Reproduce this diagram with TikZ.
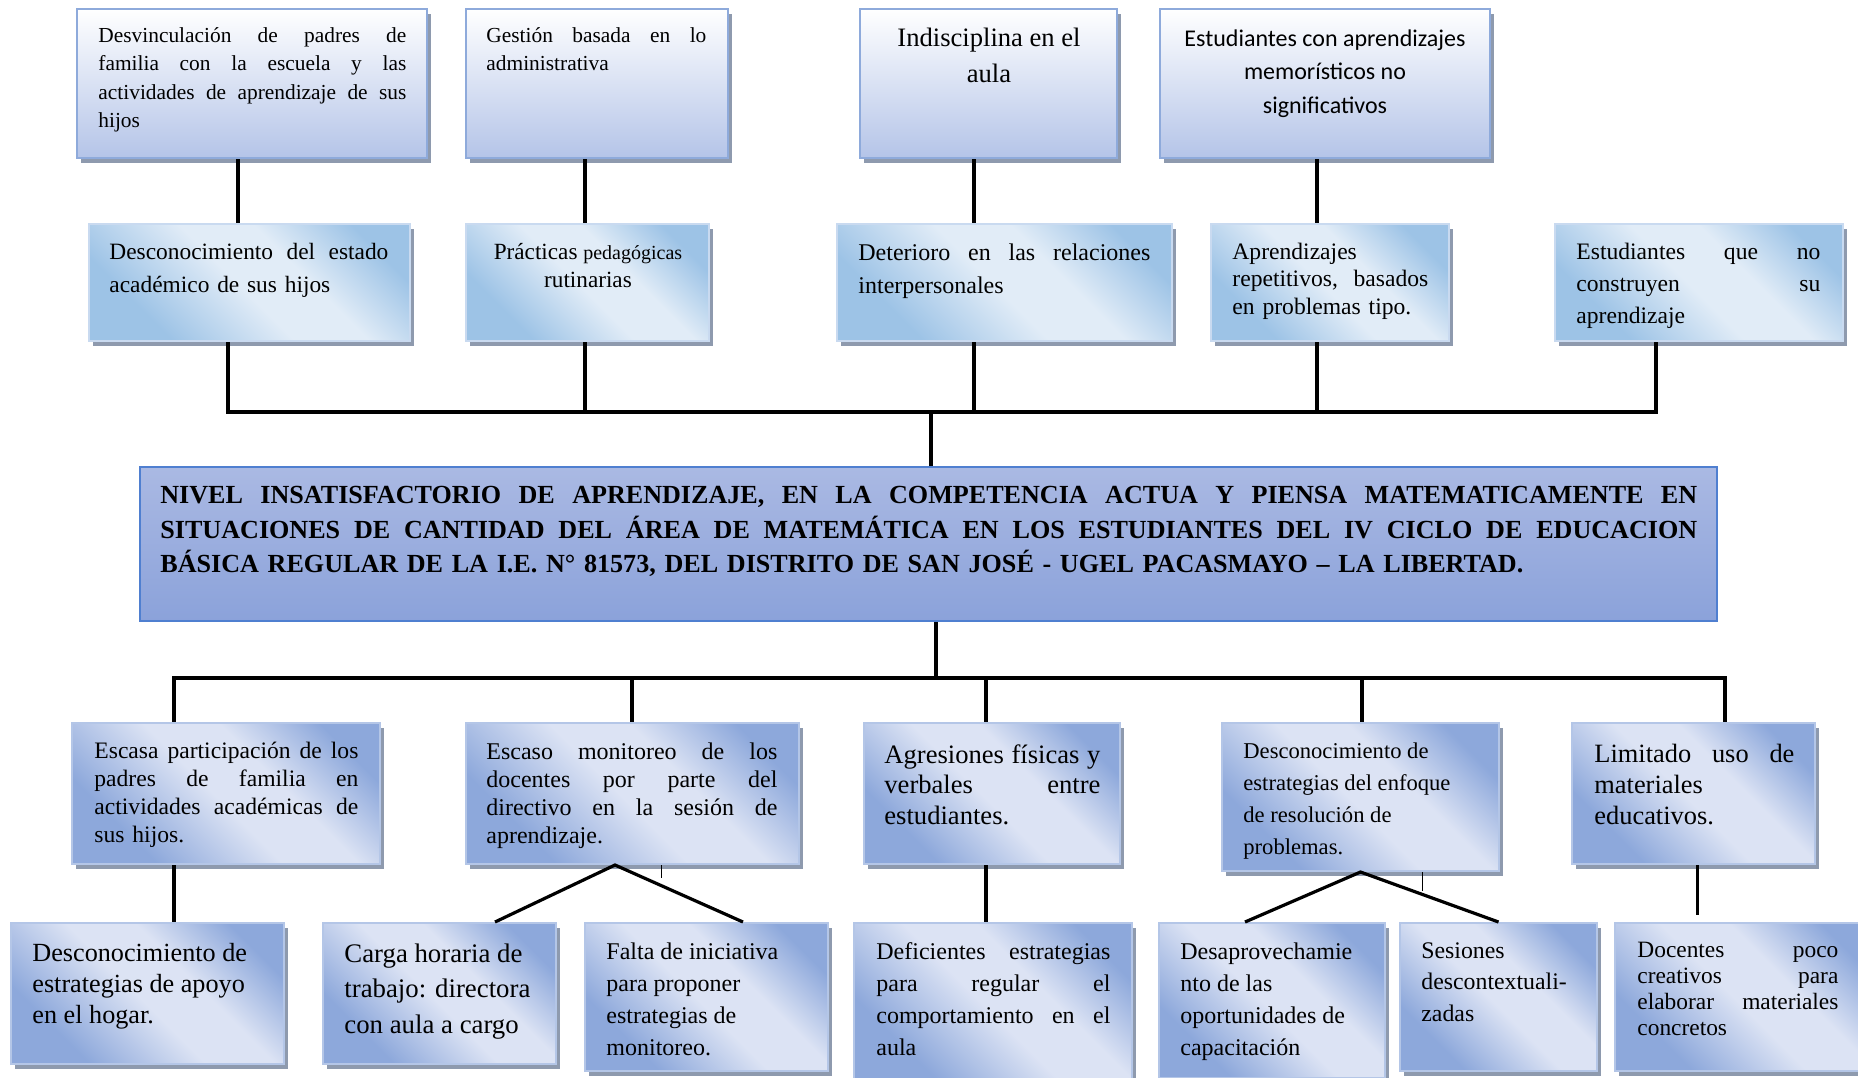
\documentclass[tikz,border=0pt]{standalone}
\usepackage{fontspec}
\setmainfont{Liberation Serif}
\newfontfamily\calibri{Carlito}
\usetikzlibrary{fit,shadows}

\definecolor{topedge}{HTML}{8EAADB}
\definecolor{toplow}{HTML}{B4C4E8}
\definecolor{midedge}{HTML}{C9DAF0}
\definecolor{middark}{HTML}{9DC3E6}
\definecolor{midlight}{HTML}{E1ECF7}
\definecolor{probedge}{HTML}{4F7FD0}
\definecolor{probtop}{HTML}{AAB9E3}
\definecolor{probbot}{HTML}{8BA2DA}
\definecolor{lowedge}{HTML}{B4C6E7}
\definecolor{lowdark}{HTML}{8DA8DB}
\definecolor{lowlight}{HTML}{DCE3F4}
\definecolor{shadegray}{HTML}{8E9AAE}

\pgfdeclarehorizontalshading{midband}{100bp}{color(0bp)=(middark); color(28bp)=(middark); color(48bp)=(midlight); color(60bp)=(midlight); color(76bp)=(middark); color(100bp)=(middark)}
\pgfdeclarehorizontalshading{lowband}{100bp}{color(0bp)=(lowdark); color(28bp)=(lowdark); color(48bp)=(lowlight); color(60bp)=(lowlight); color(76bp)=(lowdark); color(100bp)=(lowdark)}

\newlength{\jwidth}
\newcommand{\justline}[1]{{\spaceskip=0.25em plus 1fil\relax\makebox[\jwidth][s]{#1}}}

\tikzset{
  conn/.style={line width=1.6pt},
  boxshadow/.style={general shadow={fill=shadegray, shadow xshift=2pt, shadow yshift=-2.5pt}},
  topbox/.style={draw=topedge, line width=1.2pt, top color=white, bottom color=toplow, inner sep=0pt, boxshadow},
  midbox/.style={draw=midedge, line width=1pt, shading=midband, shading angle=45, inner sep=0pt, boxshadow},
  probbox/.style={draw=probedge, line width=0.8pt, top color=probtop, bottom color=probbot, inner sep=0pt},
  lowbox/.style={draw=lowedge, line width=1pt, shading=lowband, shading angle=45, inner sep=0pt, boxshadow},
  txt/.style={anchor=north west, inner sep=0pt, align=left},
  txtc/.style={anchor=north, inner sep=0pt, align=center},
  jtext/.style={text width=#1, execute at begin node={\setlength{\jwidth}{#1}}}
}

\begin{document}
\begin{tikzpicture}[x=0.5pt,y=-0.5pt]
\useasboundingbox (0,0) rectangle (1858,1077);

% efectos secundarios
\node[topbox, fit={(77,9) (427,158)}] (efs1) {};
\node[topbox, fit={(466,9) (728,158)}] (efs2) {};
\node[topbox, fit={(860,9) (1117,158)}] (efs3) {};
\node[topbox, fit={(1160,9) (1490,158)}] (efs4) {};

\node[txt, jtext=154pt, font=\fontsize{10.7}{14.2}\selectfont] (efs1t) at (98,27)
  {\justline{Desvinculación de padres de}\\ \justline{familia con la escuela y las}\\ \justline{actividades de aprendizaje de sus}\\ hijos};
\node[txt, jtext=110pt, font=\fontsize{10.7}{14.2}\selectfont] (efs2t) at (486,27)
  {\justline{Gestión basada en lo}\\ administrativa};
\node[txtc, font=\fontsize{13.3}{17.8}\selectfont] (efs3t) at (989,28) {Indisciplina en el\\ aula};
\node[txtc, font=\calibri\fontsize{12}{16.9}\selectfont] (efs4t) at (1325,29)
  {Estudiantes con aprendizajes\\ memorísticos no\\ significativos};

% efectos
\node[midbox, fit={(89,224) (410,341)}] (ef1) {};
\node[midbox, fit={(466,224) (709,341)}] (ef2) {};
\node[midbox, fit={(837,224) (1172,341)}] (ef3) {};
\node[midbox, fit={(1211,224) (1449,341)}] (ef4) {};
\node[midbox, fit={(1555,224) (1843,341)}] (ef5) {};

\node[txt, jtext=139.5pt, font=\fontsize{11.7}{16.6}\selectfont] (ef1t) at (109,243)
  {\justline{Desconocimiento del estado}\\ académico de sus hijos};
\node[txtc, font=\fontsize{11.6}{14.2}\selectfont] (ef2t) at (588,243)
  {Prácticas {\fontsize{10}{14.2}\selectfont pedagógicas}\\ rutinarias};
\node[txt, jtext=146pt, font=\fontsize{12}{16.6}\selectfont] (ef3t) at (858,243)
  {\justline{Deterioro en las relaciones}\\ interpersonales};
\node[txt, jtext=98pt, font=\fontsize{11.8}{13.6}\selectfont] (ef4t) at (1232,243)
  {Aprendizajes\\ \justline{repetitivos, basados}\\ en problemas tipo.};
\node[txt, jtext=122pt, font=\fontsize{11.8}{16}\selectfont] (ef5t) at (1576,243)
  {\justline{Estudiantes que no}\\ \justline{construyen su}\\ aprendizaje};

% problema central
\node[probbox, fit={(140,467) (1717,621)}] (prob) {};
\node[txt, jtext=768.5pt, font=\bfseries\fontsize{13.05}{17.2}\selectfont] (probt) at (160,486)
  {\justline{NIVEL INSATISFACTORIO DE APRENDIZAJE, EN LA COMPETENCIA ACTUA Y PIENSA MATEMATICAMENTE EN}\\
   \justline{SITUACIONES DE CANTIDAD DEL ÁREA DE MATEMÁTICA EN LOS ESTUDIANTES DEL IV CICLO DE EDUCACION}\\
   BÁSICA REGULAR DE LA I.E. N° 81573, DEL DISTRITO DE SAN JOSÉ - UGEL PACASMAYO – LA LIBERTAD.};

% causas
\node[lowbox, fit={(72,723) (380,864)}] (ca1) {};
\node[lowbox, fit={(466,723) (799,864)}] (ca2) {};
\node[lowbox, fit={(864,723) (1120,864)}] (ca3) {};
\node[lowbox, fit={(1222,723) (1499,871)}] (ca4) {};
\node[lowbox, fit={(1572,723) (1815,864)}] (ca5) {};

\node[txt, jtext=132pt, font=\fontsize{11.8}{13.9}\selectfont] (ca1t) at (94,742)
  {\justline{Escasa participación de los}\\ \justline{padres de familia en}\\ \justline{actividades académicas de}\\ sus hijos.};
\node[txt, jtext=145.5pt, font=\fontsize{12}{14}\selectfont] (ca2t) at (486,742)
  {\justline{Escaso monitoreo de los}\\ \justline{docentes por parte del}\\ \justline{directivo en la sesión de}\\ aprendizaje.};
\node[txt, jtext=108pt, font=\fontsize{13.3}{15.4}\selectfont] (ca3t) at (884,744)
  {\justline{Agresiones físicas y}\\ \justline{verbales entre}\\ estudiantes.};
\node[txt, font=\fontsize{11.3}{16}\selectfont] (ca4t) at (1243,742)
  {Desconocimiento de\\ estrategias del enfoque\\ de resolución de\\ problemas.};
\node[txt, jtext=100pt, font=\fontsize{13.2}{15.4}\selectfont] (ca5t) at (1594,744)
  {\justline{Limitado uso de}\\ materiales\\ educativos.};

% causas secundarias
\node[lowbox, fit={(11,923) (284,1064)}] (cs1) {};
\node[lowbox, fit={(323,923) (556,1064)}] (cs2) {};
\node[lowbox, fit={(585,923) (828,1071)}] (cs3) {};
\node[lowbox, fit={(854,923) (1132,1080)}] (cs4) {};
\node[lowbox, fit={(1159,923) (1385,1078)}] (cs5) {};
\node[lowbox, fit={(1400,923) (1597,1071)}] (cs6) {};
\node[lowbox, fit={(1615,923) (1875,1071)}] (cs7) {};

\node[txt, font=\fontsize{13.1}{15.4}\selectfont] (cs1t) at (32,943)
  {Desconocimiento de\\ estrategias de apoyo\\ en el hogar.};
\node[txt, font=\fontsize{13.4}{17.8}\selectfont] (cs2t) at (344,943)
  {Carga horaria de\\ trabajo: directora\\ con aula a cargo};
\node[txt, font=\fontsize{12}{16}\selectfont] (cs3t) at (606,942)
  {Falta de iniciativa\\ para proponer\\ estrategias de\\ monitoreo.};
\node[txt, jtext=117pt, font=\fontsize{12}{16}\selectfont] (cs4t) at (876,942)
  {\justline{Deficientes estrategias}\\ \justline{para regular el}\\ \justline{comportamiento en el}\\ aula};
\node[txt, font=\fontsize{12}{16}\selectfont] (cs5t) at (1180,942)
  {Desaprovechamie\\ nto de las\\ oportunidades de\\ capacitación};
\node[txt, font=\fontsize{11.9}{15.8}\selectfont] (cs6t) at (1421,942)
  {Sesiones\\ descontextuali-\\ zadas};
\node[txt, jtext=100.5pt, font=\fontsize{11.7}{13}\selectfont] (cs7t) at (1637,942)
  {\justline{Docentes poco}\\ \justline{creativos para}\\ \justline{elaborar materiales}\\ concretos};

% conectores de arriba
\draw[conn] ([xshift=-7pt]efs1.south) -- ([xshift=-7pt]efs1.south |- ef1.north);
\draw[conn] ([xshift=-6pt]efs2.south) -- ([xshift=-6pt]efs2.south |- ef2.north);
\draw[conn] ([xshift=-7.25pt]efs3.south) -- ([xshift=-7.25pt]efs3.south |- ef3.north);
\draw[conn] ([xshift=-4pt]efs4.south) -- ([xshift=-4pt]efs4.south |- ef4.north);

\coordinate (j1) at (228,412);
\coordinate (j2) at (585,412);
\coordinate (j3) at (974,412);
\coordinate (j4) at (1317,412);
\coordinate (j5) at (1656,412);
\coordinate (jp) at (931,412);
\draw[conn, line cap=rect] (j1) -- (j5);
\foreach \n in {1,...,5}
  \draw[conn] (j\n |- ef\n.south) -- (j\n);
\draw[conn] (jp) -- (jp |- prob.north);

% conectores de abajo
\coordinate (k1) at (174,678);
\coordinate (k2) at (632,678);
\coordinate (k3) at (986,678);
\coordinate (k4) at (1362,678);
\coordinate (k5) at (1725,678);
\coordinate (kp) at (936,678);
\draw[conn, line cap=rect] (k1) -- (k5);
\draw[conn] (prob.south -| kp) -- (kp);
\foreach \n in {1,...,5}
  \draw[conn] (k\n) -- (k\n |- ca\n.north);

\draw[conn] (k1 |- ca1.south) -- (k1 |- cs1.north);
\draw[conn] ([xshift=27.75pt]cs2.north) -- ([xshift=-8.75pt]ca2.south) -- ([xshift=18.25pt]cs3.north);
\draw[conn] (k3 |- ca3.south) -- (k3 |- cs4.north);
\draw[conn] ([xshift=-13.5pt]cs5.north) -- (ca4.south) -- (cs6.north);
\draw[conn, shorten >=3.5pt] ([xshift=2pt]ca5.south) -- ([xshift=2pt]ca5.south |- cs7.north);
\draw[thin] ([xshift=14.25pt]ca2.south) -- ++(0,13);
\draw[thin] ([xshift=30.75pt]ca4.south) -- ++(0,19);

\end{tikzpicture}
\end{document}
